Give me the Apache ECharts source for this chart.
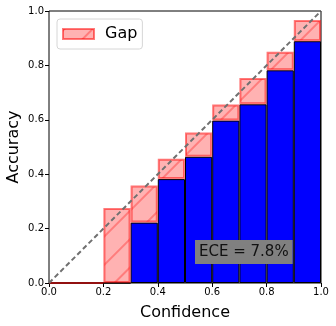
<!DOCTYPE html>
<html>
<head>
<meta charset="utf-8">
<script src="https://cdn.jsdelivr.net/npm/echarts@6/dist/echarts.min.js"></script>
<style>
  html, body { margin: 0; padding: 0; background: #fff; }
  #chart { width: 336px; height: 326px; }
</style>
</head>
<body>
<div id="chart"></div>
<script>
// bins of width 0.1
var bins = ['0.0', '0.1', '0.2', '0.3', '0.4', '0.5', '0.6', '0.7', '0.8', '0.9']
// accuracy per bin (blue)
var accuracy = [0, 0, 0, 0.222, 0.382, 0.464, 0.597, 0.657, 0.782, 0.889]
// mean confidence per bin (top of the pink gap)
var confidence = [0, 0, 0.276, 0.358, 0.457, 0.553, 0.656, 0.754, 0.85, 0.967]
var eceText = 'ECE = 7.8%'

var gap = []
for (var i = 0; i < bins.length; i++) {
  gap.push(+(confidence[i] - accuracy[i]).toFixed(3))
}

var font = 'DejaVu Sans'
var chart = echarts.init(document.getElementById('chart'))
chart.setOption({
  animation: false,
  textStyle: { fontFamily: font },
  grid: {
    left: 49, right: 15, top: 11, bottom: 43,
    outerBoundsMode: 'none', containLabel: false,
    show: true, borderColor: '#000', borderWidth: 1, backgroundColor: 'transparent'
  },
  legend: {
    data: [{ name: 'Gap', icon: 'rect' }],
    left: 57, top: 19,
    itemWidth: 31, itemHeight: 10,
    padding: [7, 5, 7, 5],
    borderColor: '#d6d6d6', borderWidth: 1, borderRadius: 3,
    backgroundColor: '#fff',
    textStyle: { fontSize: 16, color: '#000', fontFamily: font, padding: [0, 0, 0, 6] }
  },
  xAxis: [
    {
      type: 'category', data: bins, show: false, boundaryGap: true
    },
    {
      type: 'value', min: 0, max: 1, interval: 0.2, position: 'bottom',
      name: 'Confidence', nameLocation: 'middle', nameGap: 22, nameMoveOverlap: false,
      nameTextStyle: { fontSize: 16, color: '#000', fontFamily: font },
      axisLine: { show: false },
      axisTick: { show: true, length: 4, lineStyle: { color: '#000' } },
      axisLabel: {
        fontSize: 10, color: '#000', margin: 4,
        formatter: function (v) { return v.toFixed(1) }
      },
      splitLine: { show: false }
    }
  ],
  yAxis: {
    type: 'value', min: 0, max: 1, interval: 0.2,
    name: 'Accuracy', nameLocation: 'middle', nameGap: 27, nameMoveOverlap: false,
    nameTextStyle: { fontSize: 16, color: '#000', fontFamily: font },
    axisLine: { show: false },
    axisTick: { show: true, length: 4, lineStyle: { color: '#000' } },
    axisLabel: {
      fontSize: 10, color: '#000', margin: 5,
      formatter: function (v) { return v.toFixed(1) }
    },
    splitLine: { show: false }
  },
  series: [
    {
      name: 'Accuracy', type: 'bar', xAxisIndex: 0, stack: 'rel',
      barWidth: '100%', data: accuracy,
      itemStyle: { color: '#0000ff', borderColor: '#000', borderWidth: 1 }
    },
    {
      name: 'Gap', type: 'bar', xAxisIndex: 0, stack: 'rel',
      barWidth: '100%', data: gap,
      itemStyle: {
        color: 'rgba(255,0,0,0.3)',
        borderColor: 'rgba(255,0,0,0.3)', borderWidth: 2,
        decal: {
          symbol: 'rect', symbolSize: 1,
          dashArrayX: [1, 0], dashArrayY: [1.5, 18],
          rotation: -Math.PI / 4,
          color: 'rgba(255,0,0,0.3)'
        }
      }
    },
    {
      name: 'diag', type: 'line', xAxisIndex: 1,
      data: [[0, 0], [1, 1]], symbol: 'none', z: 5,
      lineStyle: { color: '#707070', width: 2, type: [5, 3] }
    }
  ],
  graphic: [
    {
      type: 'text', left: 195, top: 240, z: 10,
      style: {
        text: eceText, fontSize: 15, fontFamily: font, fill: '#111',
        backgroundColor: '#808080', padding: [5, 4, 4, 4]
      }
    }
  ]
})
</script>
</body>
</html>
